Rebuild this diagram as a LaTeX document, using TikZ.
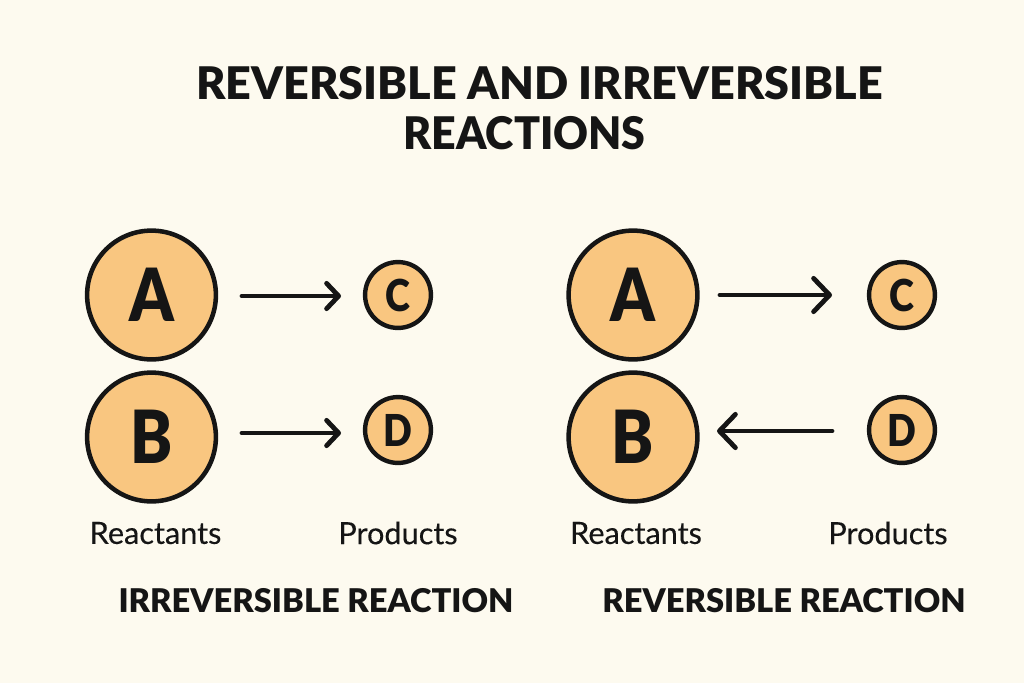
\documentclass[tikz,border=0pt]{standalone}
\usepackage{fontspec}
\setmainfont{Lato}[BoldFont=Lato Black]
\usetikzlibrary{arrows.meta}
\definecolor{bgc}{HTML}{FDFAEF}
\definecolor{ink}{HTML}{151515}
\definecolor{fillc}{HTML}{F9C680}
\newfontfamily\medfont{Lato}[FakeBold=0.25]
\newfontfamily\heavyfont{Lato Black}
\newfontfamily\letterfont{Lato Black}[FakeStretch=0.86]
\newfontfamily\ttlbfont{Lato Black}[FakeStretch=0.956]
\tikzset{
 px/.style={x=0.75pt,y=-0.75pt},
 big/.style={circle,draw=ink,fill=fillc,line width=3.4pt,minimum size=96.6pt,inner sep=0pt,text=ink,font=\fontsize{55}{55}\letterfont},
 small/.style={circle,draw=ink,fill=fillc,line width=3.3pt,minimum size=49.4pt,inner sep=0pt,text=ink,font=\fontsize{33}{33}\letterfont},
 conn/.style={draw=ink,line width=3.6pt,line cap=round,-{Straight Barb[length=9pt,width=19pt,line width=3.6pt,round]}},
 connbig/.style={draw=ink,line width=3.6pt,line cap=round,-{Straight Barb[length=12pt,width=25pt,line width=3.6pt,round]}},
 lab/.style={text=ink,font=\fontsize{23}{23}\medfont,inner sep=0pt},
 headc/.style={text=ink,font=\fontsize{24.5}{24.5}\heavyfont,inner sep=0pt},
 ttl/.style={text=ink,font=\fontsize{33.7}{33.7}\heavyfont,inner sep=0pt},
 ttlb/.style={text=ink,font=\fontsize{33.7}{33.7}\ttlbfont,inner sep=0pt}
}
\begin{document}
\begin{tikzpicture}[px]
\path[use as bounding box,fill=bgc] (0,0) rectangle (1024,683);
\node[ttl] (t1) at (539.5,83) {REVERSIBLE AND IRREVERSIBLE};
\node[ttlb] (t2) at (524.5,133) {REACTIONS};
\node[big] (a1) at (151.5,295) {A};
\node[big] (b1) at (151.5,437) {B};
\node[small] (c1) at (398,295) {C};
\node[small] (d1) at (398,430) {D};
\node[big] (a2) at (633,295) {A};
\node[big] (b2) at (633,437) {B};
\node[small] (c2) at (902,295) {C};
\node[small] (d2) at (902,430) {D};
\coordinate (s1) at (242,296); \coordinate (e1) at (341,296);
\coordinate (s2) at (242,433); \coordinate (e2) at (341,433);
\coordinate (s3) at (720,295); \coordinate (e3) at (832,295);
\coordinate (s4) at (832,431); \coordinate (e4) at (717,431);
\draw[conn] (s1) -- (e1);
\draw[conn] (s2) -- (e2);
\draw[connbig] (s3) -- (e3);
\draw[connbig] (s4) -- (e4);
\node[lab] (r1) at (155.5,533) {Reactants};
\node[lab] (p1) at (398,533) {Products};
\node[lab] (r2) at (636,533) {Reactants};
\node[lab] (p2) at (888,533) {Products};
\node[headc] (h1) at (316,601) {IRREVERSIBLE REACTION};
\node[headc] (h2) at (784,601) {REVERSIBLE REACTION};
\end{tikzpicture}
\end{document}
